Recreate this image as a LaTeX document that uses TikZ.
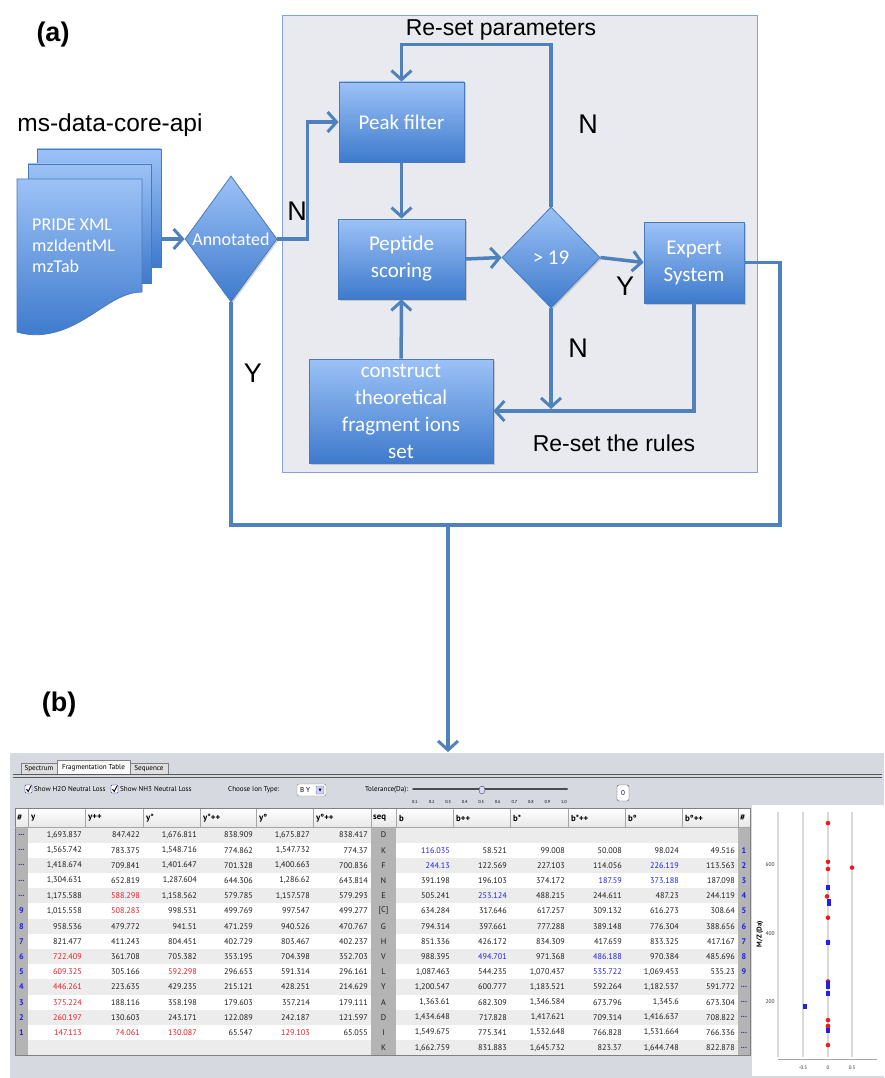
\documentclass[tikz,border=0pt]{standalone}
\usepackage{fontspec}
\setmainfont{Liberation Sans}
\newfontfamily\calfont{Carlito}
\newfontfamily\uifont{PT Sans}
\usetikzlibrary{arrows.meta,shapes.geometric,shadows}
\definecolor{flowblue}{RGB}{79,129,189}
\definecolor{boxtop}{RGB}{156,194,247}
\definecolor{boxbot}{RGB}{62,122,204}
\definecolor{boxline}{RGB}{72,122,186}
\definecolor{panelbg}{RGB}{232,234,239}
\definecolor{panelline}{RGB}{130,165,215}
\definecolor{guibg}{RGB}{214,217,223}
\definecolor{rowgray}{RGB}{236,236,236}
\definecolor{colgray}{RGB}{180,180,180}
\definecolor{numgray}{RGB}{28,28,28}
\definecolor{hitred}{RGB}{232,28,36}
\definecolor{hitblue}{RGB}{32,32,230}
\tikzset{
  flow/.style={draw=flowblue,line width=3.5pt,
    -{Straight Barb[length=9pt,width=20pt,line width=3pt]}},
  link/.style={draw=flowblue,line width=3.5pt},
  fbox/.style={draw=boxline,line width=.8pt,top color=boxtop,bottom color=boxbot,
    text=white,font=\calfont\fontsize{21}{27}\selectfont,align=center,inner sep=0pt,
    drop shadow={opacity=.35,shadow xshift=1.5pt,shadow yshift=-1.5pt}},
  fdia/.style={fbox,shape=diamond},
  docpage/.style={draw=boxline,line width=.8pt,top color=boxtop,bottom color=boxbot},
  lab/.style={font=\fontsize{23}{27}\selectfont,inner sep=0pt},
  yn/.style={font=\fontsize{27}{30}\selectfont,inner sep=0pt},
  num/.style={font=\uifont\fontsize{8.2}{9}\selectfont,text=numgray,inner sep=0pt,anchor=east},
  hdr/.style={font=\uifont\bfseries\fontsize{8.8}{9}\selectfont,inner sep=0pt,anchor=west},
  gui/.style={font=\uifont\fontsize{7.1}{8}\selectfont,inner sep=0pt},
  sep/.style={draw=gray!70,line width=.5pt},
}
\newcommand{\hitR}[1]{\textcolor{hitred}{#1}}
\newcommand{\hitB}[1]{\textcolor{hitblue}{#1}}
\newcommand{\more}{...}

\begin{document}
\begin{tikzpicture}[x=1pt,y=-1pt]
  \useasboundingbox (0,0) rectangle (884,1078);
  % part (a): the workflow
  \node[font=\bfseries\fontsize{27}{30}\selectfont] (tagA) at (53,35) {(a)};
  \node[font=\fontsize{24.5}{28}\selectfont,inner sep=0pt] (api) at (110,125) {ms-data-core-api};
  \path[docpage] (37,149) rectangle (161,267);
  \path[docpage] (28,164) rectangle (151,283);
  \path[docpage] (17,179) -- (142,179) -- (142,292)
     .. controls (115,292) and (95,318) .. (62,330)
     .. controls (42,337) and (27,335) .. (17,332) -- cycle;
  \node[font=\calfont\fontsize{18}{21}\selectfont,text=white,align=left,anchor=north west,inner sep=0pt]
     (files) at (32,219) {PRIDE XML\\mzIdentML\\mzTab};
  \coordinate (docs) at (161,239);
  \node[fdia,minimum width=92pt,minimum height=126pt,
     label={[font=\calfont\fontsize{18}{21}\selectfont,text=white]center:Annotated}] (ann) at (231,239) {};
  % grey frame of the scoring loop
  \draw[panelline,fill=panelbg,line width=.8pt] (282,15) rectangle (757,472);
  \node[fbox,minimum width=125pt,minimum height=80pt] (peak) at (401.5,122) {Peak filter};
  \node[fbox,minimum width=127pt,minimum height=80pt] (pep) at (401.5,259) {Peptide\\scoring};
  \node[fdia,minimum width=98pt,minimum height=101pt] (gt) at (551,257.5) {\textgreater{} 19};
  \node[fbox,minimum width=100pt,minimum height=81pt] (exp) at (694,262.5) {Expert\\System};
  \node[fbox,minimum width=184pt,minimum height=104pt] (con) at (401,411)
     {construct\\theoretical\\fragment ions\\set};
  \node[lab] (rsp) at (501,30) {Re-set parameters};
  \node[lab] (rsr) at (614,443) {Re-set the rules};
  \node[yn] (nA) at (297,211) {N};
  \node[yn] (nB) at (588,124) {N};
  \node[yn] (nC) at (578,348) {N};
  \node[yn] (yA) at (625,286) {Y};
  \node[yn] (yB) at (253,373) {Y};
  \coordinate (drop) at (551,409);
  \coordinate (jr) at (780,525);
  \coordinate (jm) at (448,525);
  \coordinate (shot) at (448,752);
  \draw[flow] (docs) -- (ann.west);
  \draw[flow] (ann.east) -- ++(30,0) |- (peak.west);
  \draw[flow] (peak) -- (pep);
  \draw[flow] (pep.east) -- (gt.west);
  \draw[flow] (gt.east) -- (exp.west);
  \draw[flow] (gt.north) -- ++(0,-162) -| (peak.north);
  \draw[flow] (gt.south) -- (drop);
  \draw[flow] (exp.south) |- (con.east);
  \draw[flow] (con) -- (pep);
  \draw[link] (ann.south) |- (jr) |- (exp.east);
  \draw[flow] (jm) -- (shot);
  % part (b): the fragmentation table
  \node[font=\bfseries\fontsize{27}{30}\selectfont] (tagB) at (59,705) {(b)};
  \fill[guibg] (10,753) rectangle (884,1078);
  \fill[gray!25,draw=gray] (21,775) -- (21,763) -- (57,763) -- (57,775);
  \fill[gray!5,draw=gray] (57,775) -- (57,760) -- (130,760) -- (130,775);
  \fill[gray!25,draw=gray] (130,775) -- (130,763) -- (168,763) -- (168,775);
  \node[gui] (tabS) at (39,769) {Spectrum};
  \node[gui] (tabF) at (93.5,768) {Fragmentation Table};
  \node[gui] (tabQ) at (149,769) {Sequence};
  \draw[gray!70!black,line width=.8pt] (13,774) -- (882,774);
  \draw[gray!70!black,line width=.8pt] (13,777) -- (882,777);
  \foreach \cx in {25,111} {
    \draw[fill=white,draw=blue!50!black,rounded corners=.8pt] (\cx,785) rectangle ++(7,8);
    \draw[line width=.9pt] (\cx+1.5,789) -- (\cx+3.2,791.5) -- (\cx+6,786);
  }
  \node[gui,anchor=west] (h2o) at (34,789) {Show H2O Neutral Loss};
  \node[gui,anchor=west] (nh3) at (120,789) {Show NH3 Neutral Loss};
  \node[gui,anchor=west] (ion) at (228,790) {Choose Ion Type:};
  \draw[fill=white,draw=gray,rounded corners=2pt] (297,784) rectangle (326,796);
  \node[gui,anchor=west] (ionv) at (300,790) {B Y};
  \draw[fill=blue!20,draw=gray,rounded corners=1pt] (316,786) rectangle (324,794);
  \fill (318.5,788.5) -- (321.5,788.5) -- (320,791.5) -- cycle;
  \node[gui,anchor=west] (tol) at (365,790) {Tolerance(Da):};
  \draw[gray!60!black,line width=2pt,line cap=round] (413,789) -- (567,789);
  \foreach \t [count=\k from 0] in {0.1,0.2,0.3,0.4,0.5,0.6,0.7,0.8,0.9,1.0}
    \node[font=\uifont\fontsize{4.3}{5}\selectfont,inner sep=0pt] at ({415+16.55*\k},802) {\t};
  \draw[fill=blue!15,draw=gray!60!black] (482,790) ellipse (3pt and 4pt);
  \draw[fill=white,draw=gray!60!black,rounded corners=2pt] (617,785) rectangle (629,801);
  \node[gui,text=blue!50!black] (zero) at (623,793) {0};
  % table frame and header
  \fill[white] (15,808) rectangle (750,1055);
  \fill[top color=white,bottom color=gray!18] (15,808) rectangle (750,827);
  \fill[colgray] (15,827) rectangle (28,1055);
  \fill[colgray] (371,827) rectangle (396,1055);
  \fill[colgray] (738,827) rectangle (750,1055);
  \foreach \rw in {0,2,...,14} {
    \fill[rowgray] (28,{827.4+15.2*\rw}) rectangle (371,{842.6+15.2*\rw});
    \fill[rowgray] (396,{827.4+15.2*\rw}) rectangle (738,{842.6+15.2*\rw});
  }
  \foreach \cx in {28,85,143,200,256,313,371,396,453,510,568,625,682,738}
    \draw[sep] (\cx,808) -- (\cx,827);
  \draw[gray] (15,808) rectangle (750,1055);
  \draw[sep] (15,827) -- (750,827);
  \foreach \cx/\t in {17/\#,31/y,88/y++,146/y*,203/y*++,259/y°,316/y°++,373/seq,
      399/b,456/b++,513/b*,571/b*++,628/b°,685/b°++,740/\#}
    \node[hdr] at (\cx,818) {\t};
  \foreach \rw/\nl/\va/\vb/\vc/\vd/\ve/\vf/\sq/\ka/\kb/\kc/\kd/\ke/\kf/\nr in {
    0/\more/{1,693.837}/847.422/{1,676.811}/838.909/{1,675.827}/838.417/D/{}/{}/{}/{}/{}/{}/{},
    1/\more/{1,565.742}/783.375/{1,548.716}/774.862/{1,547.732}/774.37/K/\hitB{116.035}/58.521/99.008/50.008/98.024/49.516/1,
    2/\more/{1,418.674}/709.841/{1,401.647}/701.328/{1,400.663}/700.836/F/\hitB{244.13}/122.569/227.103/114.056/\hitB{226.119}/113.563/2,
    3/\more/{1,304.631}/652.819/{1,287.604}/644.306/{1,286.62}/643.814/N/391.198/196.103/374.172/\hitB{187.59}/\hitB{373.188}/187.098/3,
    4/\more/{1,175.588}/\hitR{588.298}/{1,158.562}/579.785/{1,157.578}/579.293/E/505.241/\hitB{253.124}/488.215/244.611/487.23/244.119/4,
    5/9/{1,015.558}/\hitR{508.283}/998.531/499.769/997.547/499.277/[C]/634.284/317.646/617.257/309.132/616.273/308.64/5,
    6/8/958.536/479.772/941.51/471.259/940.526/470.767/G/794.314/397.661/777.288/389.148/776.304/388.656/6,
    7/7/821.477/411.243/804.451/402.729/803.467/402.237/H/851.336/426.172/834.309/417.659/833.325/417.167/7,
    8/6/\hitR{722.409}/361.708/705.382/353.195/704.398/352.703/V/988.395/\hitB{494.701}/971.368/\hitB{486.188}/970.384/485.696/8,
    9/5/\hitR{609.325}/305.166/\hitR{592.298}/296.653/591.314/296.161/L/{1,087.463}/544.235/{1,070.437}/\hitB{535.722}/{1,069.453}/535.23/9,
    10/4/\hitR{446.261}/223.635/429.235/215.121/428.251/214.629/Y/{1,200.547}/600.777/{1,183.521}/592.264/{1,182.537}/591.772/\more,
    11/3/\hitR{375.224}/188.116/358.198/179.603/357.214/179.111/A/{1,363.61}/682.309/{1,346.584}/673.796/{1,345.6}/673.304/\more,
    12/2/\hitR{260.197}/130.603/243.171/122.089/242.187/121.597/D/{1,434.648}/717.828/{1,417.621}/709.314/{1,416.637}/708.822/\more,
    13/1/\hitR{147.113}/\hitR{74.061}/\hitR{130.087}/65.547/\hitR{129.103}/65.055/I/{1,549.675}/775.341/{1,532.648}/766.828/{1,531.664}/766.336/\more,
    14/{}/{}/{}/{}/{}/{}/{}/K/{1,662.759}/831.883/{1,645.732}/823.37/{1,644.748}/822.878/\more} {
    \pgfmathsetmacro{\ry}{835+15.2*\rw}
    \node[num,anchor=center,text=hitblue,font=\uifont\bfseries\fontsize{8.2}{9}\selectfont] at (21.5,\ry) {\nl};
    \node[num] at (82,\ry) {\va};
    \node[num] at (140,\ry) {\vb};
    \node[num] at (197,\ry) {\vc};
    \node[num] at (253,\ry) {\vd};
    \node[num] at (310,\ry) {\ve};
    \node[num] at (368,\ry) {\vf};
    \node[num,anchor=center] at (383.5,\ry) {\sq};
    \node[num] at (450,\ry) {\ka};
    \node[num] at (507,\ry) {\kb};
    \node[num] at (565,\ry) {\kc};
    \node[num] at (622,\ry) {\kd};
    \node[num] at (679,\ry) {\ke};
    \node[num] at (735,\ry) {\kf};
    \node[num,anchor=center,text=hitblue,font=\uifont\bfseries\fontsize{8.2}{9}\selectfont] at (744,\ry) {\nr};
  }
  % error plot beside the table
  \fill[white] (752,805) rectangle (884,1076);
  \foreach \cx in {778,803,828,852}
    \draw[gray!30,line width=1.2pt] (\cx,812) -- (\cx,1057);
  \draw[gray!70,line width=.6pt] (778,1059) -- (877,1059);
  \foreach \cx/\t in {803/-0.5,828/0,852/0.5}
    \node[font=\uifont\fontsize{5}{6}\selectfont,inner sep=0pt,text=gray!40!black] at (\cx,1068) {\t};
  \foreach \v in {600,400,200}
    \node[font=\uifont\fontsize{5.5}{6}\selectfont,inner sep=0pt,text=gray!40!black]
      at (770,{1070.5-0.3425*\v}) {\v};
  \node[font=\uifont\bfseries\fontsize{7}{8}\selectfont,rotate=90,inner sep=0pt] (mz) at (760,934) {M/Z (Da)};
  \foreach \v/\dx in {722.409/0,609.325/0,592.298/24,588.298/0,508.283/-1,446.261/0,375.224/0,
      260.197/0,147.113/0,130.087/0,129.103/0,74.061/0}
    \fill[hitred] ({828+\dx},{1070.5-0.3425*\v}) circle (2.3pt);
  \foreach \v/\dx in {535.722/0,494.701/1,486.188/1,373.188/0,253.124/0,244.13/0,226.119/0,
      187.59/-23,116.035/0}
    \fill[hitblue] ({828+\dx-2},{1068-0.3425*\v}) rectangle ++(4,5);
\end{tikzpicture}
\end{document}
